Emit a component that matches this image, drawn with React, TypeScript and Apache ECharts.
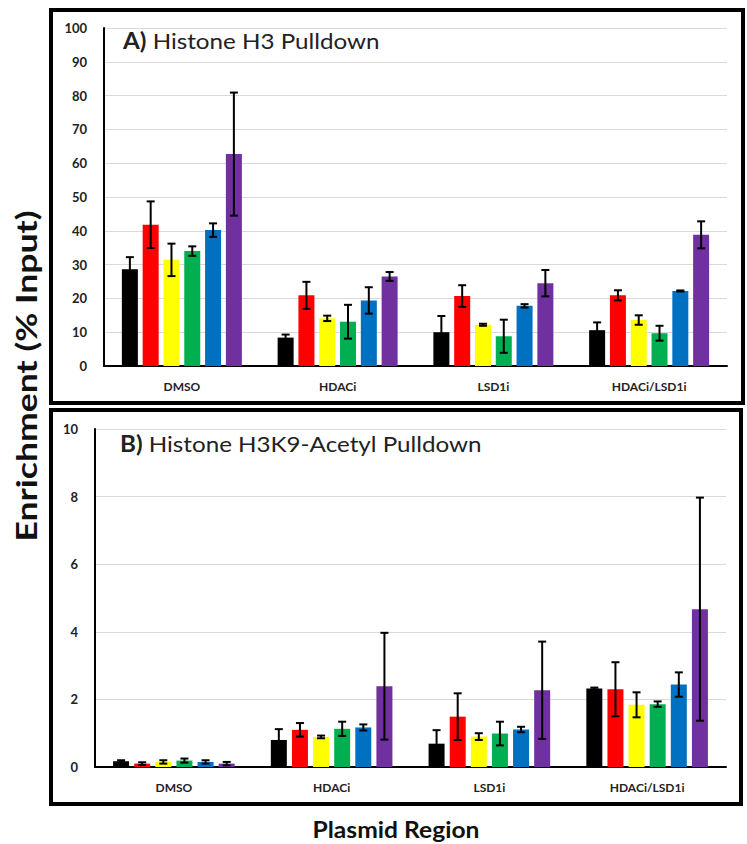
import React, { useEffect, useRef } from "react";
import * as echarts from "echarts";

const categories = ["DMSO", "HDACi", "LSD1i", "HDACi/LSD1i"];
const seriesColors = ["#000000", "#FF0000", "#FFFF00", "#00B050", "#0070C0", "#7030A0"];

// Panel A: Histone H3 pulldown, mean per region (6 regions) for each category
const h3Means = [
  [28.6, 8.4, 10.0, 10.6],
  [41.8, 20.9, 20.7, 20.9],
  [31.4, 14.1, 12.2, 13.6],
  [34.0, 13.1, 8.8, 9.7],
  [40.2, 19.4, 17.8, 22.2],
  [62.7, 26.5, 24.5, 38.8],
];
const h3Errors = [
  [3.6, 0.9, 4.8, 2.3],
  [6.9, 4.0, 3.2, 1.5],
  [4.8, 0.8, 0.3, 1.4],
  [1.4, 5.0, 4.9, 2.2],
  [2.0, 3.9, 0.5, 0.15],
  [18.2, 1.3, 3.9, 4.0],
];

// Panel B: Histone H3K9-Acetyl pulldown
const acMeans = [
  [0.17, 0.8, 0.69, 2.32],
  [0.10, 1.10, 1.49, 2.30],
  [0.15, 0.89, 0.90, 1.84],
  [0.19, 1.13, 0.99, 1.86],
  [0.15, 1.17, 1.11, 2.44],
  [0.10, 2.39, 2.27, 4.67],
];
const acErrors = [
  [0.03, 0.32, 0.40, 0.03],
  [0.04, 0.20, 0.69, 0.80],
  [0.05, 0.04, 0.10, 0.37],
  [0.06, 0.21, 0.35, 0.08],
  [0.05, 0.09, 0.08, 0.36],
  [0.05, 1.58, 1.44, 3.30],
];

const yTicksA = { min: 0, max: 100, interval: 10 };
const yTicksB = { min: 0, max: 10, interval: 2 };

const titleA = ["A)", " Histone H3 Pulldown"];
const titleB = ["B)", " Histone H3K9-Acetyl Pulldown"];
const yAxisTitle = "Enrichment (% Input)";
const xAxisTitle = "Plasmid Region";

const FONT = "Lato, 'Open Sans', sans-serif";

function buildErrData(means: number[][], errs: number[][]) {
  const out: number[][] = [];
  means.forEach((row, s) => {
    row.forEach((m, c) => {
      out.push([c, s, m, errs[s][c]]);
    });
  });
  return out;
}

function errRender(spacing: number) {
  return (params: any, api: any) => {
    const c = api.value(0);
    const s = api.value(1);
    const m = api.value(2);
    const e = api.value(3);
    const hi = api.coord([c, m + e]);
    const lo = api.coord([c, Math.max(m - e, 0)]);
    const x = hi[0] + (s - 2.5) * spacing;
    const cap = 4;
    const st = { stroke: "#000", lineWidth: 2 };
    return {
      type: "group",
      children: [
        { type: "line", shape: { x1: x, y1: hi[1], x2: x, y2: lo[1] }, style: st },
        { type: "line", shape: { x1: x - cap, y1: hi[1], x2: x + cap, y2: hi[1] }, style: st },
        { type: "line", shape: { x1: x - cap, y1: lo[1], x2: x + cap, y2: lo[1] }, style: st },
      ],
    };
  };
}

function panelTitle(parts: string[], x: number, y: number) {
  return {
    type: "text",
    x,
    y,
    scaleX: 1.1,
    style: {
      text: `{b|${parts[0]}}{n|${parts[1]}}`,
      textAlign: "left",
      textVerticalAlign: "middle",
      rich: {
        b: { fontFamily: FONT, fontSize: 22, fontWeight: "bold", fill: "#222", color: "#222" },
        n: { fontFamily: FONT, fontSize: 22, fontWeight: "normal", fill: "#222", color: "#222" },
      },
    },
  };
}

export default function App() {
  const ref = useRef<HTMLDivElement>(null);
  useEffect(() => {
    if (!ref.current) return;
    const chart = echarts.init(ref.current, null, { renderer: "svg" });
    const barW = 16;
    const gapA = 0.3;
    const gapB = 0.32;

    const xAxisCommon = (gridIndex: number) => ({
      type: "category",
      gridIndex,
      data: categories,
      axisLine: { lineStyle: { color: "#000", width: 2 } },
      axisTick: { show: false },
      axisLabel: { fontFamily: FONT, fontWeight: "bold", fontSize: 12, color: "#222", margin: 14 },
    });
    const yAxisCommon = (gridIndex: number, t: any) => ({
      type: "value",
      gridIndex,
      min: t.min,
      max: t.max,
      interval: t.interval,
      axisLine: { show: true, lineStyle: { color: "#000", width: 2 } },
      axisTick: { show: false },
      splitLine: { lineStyle: { color: "#d9d9d9", width: 1 } },
      axisLabel: { fontFamily: FONT, fontWeight: "bold", fontSize: 13, color: "#222", margin: 17 },
    });

    const barsA = h3Means.map((d, i) => ({
      type: "bar",
      xAxisIndex: 0,
      yAxisIndex: 0,
      data: d,
      barWidth: barW,
      barGap: `${gapA * 100}%`,
      itemStyle: { color: seriesColors[i] },
    }));
    const barsB = acMeans.map((d, i) => ({
      type: "bar",
      xAxisIndex: 1,
      yAxisIndex: 1,
      data: d,
      barWidth: barW,
      barGap: `${gapB * 100}%`,
      itemStyle: { color: seriesColors[i] },
    }));

    chart.setOption({
      animation: false,
      backgroundColor: "#fff",
      grid: [
        { left: 104, right: 20, top: 28, bottom: 478 },
        { left: 95, right: 21, top: 429, bottom: 77 },
      ],
      xAxis: [xAxisCommon(0), xAxisCommon(1)],
      yAxis: [yAxisCommon(0, yTicksA), yAxisCommon(1, yTicksB)],
      series: [
        ...barsA,
        ...barsB,
        {
          type: "custom",
          xAxisIndex: 0,
          yAxisIndex: 0,
          encode: { x: 0, y: 2 },
          data: buildErrData(h3Means, h3Errors),
          renderItem: errRender(barW * (1 + gapA)),
          z: 10,
        },
        {
          type: "custom",
          xAxisIndex: 1,
          yAxisIndex: 1,
          encode: { x: 0, y: 2 },
          data: buildErrData(acMeans, acErrors),
          renderItem: errRender(barW * (1 + gapB)),
          z: 10,
        },
      ],
      graphic: [
        {
          type: "rect",
          shape: { x: 51, y: 10, width: 692, height: 393 },
          style: { fill: "none", stroke: "#000", lineWidth: 4 },
          z: -1,
        },
        {
          type: "rect",
          shape: { x: 51, y: 410, width: 690, height: 394 },
          style: { fill: "none", stroke: "#000", lineWidth: 4 },
          z: -1,
        },
        panelTitle(titleA, 123, 40),
        panelTitle(titleB, 120, 443),
        {
          type: "text",
          x: 26,
          y: 376,
          rotation: Math.PI / 2,
          scaleX: 1.27,
          style: {
            text: yAxisTitle,
            fontFamily: FONT,
            fontWeight: "bold",
            fontSize: 28,
            fill: "#111",
            textAlign: "center",
            textVerticalAlign: "middle",
          },
        },
        {
          type: "text",
          x: 396,
          y: 830,
          scaleX: 1.12,
          style: {
            text: xAxisTitle,
            fontFamily: FONT,
            fontWeight: "bold",
            fontSize: 22,
            fill: "#111",
            textAlign: "center",
            textVerticalAlign: "middle",
          },
        },
      ],
    });
    return () => chart.dispose();
  }, []);
  return (
    <div
      ref={ref}
      style={{ position: "fixed", left: 0, top: 0, width: 747, height: 844, background: "#fff" }}
    />
  );
}
